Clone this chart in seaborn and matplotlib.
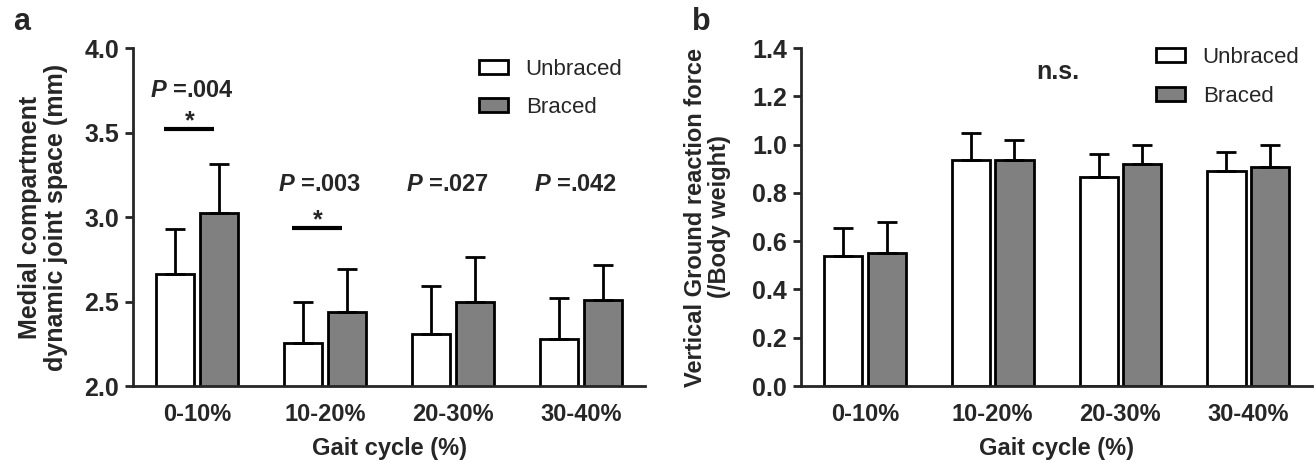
import numpy as np
import pandas as pd
import seaborn as sns
import matplotlib
matplotlib.use("Agg")
import matplotlib.pyplot as plt
from matplotlib.patches import Patch

# ---- data ----
phases = ["0-10%", "10-20%", "20-30%", "30-40%"]
conditions = ["Unbraced", "Braced"]

js_unbraced = [2.66, 2.255, 2.31, 2.28]
js_braced = [3.025, 2.44, 2.50, 2.51]
js_unbraced_sd = [0.27, 0.245, 0.28, 0.24]
js_braced_sd = [0.29, 0.25, 0.265, 0.205]

grf_unbraced = [0.54, 0.935, 0.866, 0.89]
grf_braced = [0.551, 0.935, 0.92, 0.907]
grf_unbraced_sd = [0.115, 0.115, 0.097, 0.08]
grf_braced_sd = [0.129, 0.085, 0.08, 0.091]

p_labels = ["$P$ =.004", "$P$ =.003", "$P$ =.027", "$P$ =.042"]
sig_phases = ["0-10%", "10-20%"]

colors = ["white", "#808080"]

sns.set_style("ticks")
plt.rcParams["font.family"] = ["Liberation Sans", "DejaVu Sans"]
plt.rcParams["font.weight"] = "bold"
plt.rcParams["mathtext.fontset"] = "custom"
plt.rcParams["mathtext.it"] = "Liberation Sans:italic:bold"
plt.rcParams["mathtext.rm"] = "Liberation Sans:bold"


def to_long(unbraced, braced):
    return pd.DataFrame({
        "phase": phases * 2,
        "condition": [conditions[0]] * 4 + [conditions[1]] * 4,
        "value": list(unbraced) + list(braced),
    })


def draw_panel(ax, unbraced, braced, sd_u, sd_b, ylim, yticks, ylabel, labelpad, ylsize):
    df = to_long(unbraced, braced)
    sns.barplot(data=df, x="phase", y="value", hue="condition", order=phases,
                hue_order=conditions, palette=colors, edgecolor="black",
                linewidth=2, width=0.68, gap=0.12, legend=False, ax=ax)
    for cont, sd in zip(ax.containers, [sd_u, sd_b]):
        xs = [p.get_x() + p.get_width() / 2 for p in cont]
        ys = [p.get_height() for p in cont]
        ax.errorbar(xs, ys, yerr=[np.zeros(len(sd)), sd], fmt="none",
                    ecolor="black", elinewidth=2, capsize=7, capthick=2)
    ax.set_xlim(-0.5, 3.5)
    ax.set_ylim(*ylim)
    ax.set_yticks(yticks)
    ax.set_yticklabels([f"{t:.1f}" for t in yticks])
    ax.tick_params(axis="y", length=6, width=2, labelsize=18, pad=4)
    ax.tick_params(axis="x", length=0, labelsize=17, pad=12)
    for s in ["left", "bottom"]:
        ax.spines[s].set_linewidth(2)
    sns.despine(ax=ax)
    ax.set_xlabel("Gait cycle (%)", fontsize=17, fontweight="bold", labelpad=8)
    ax.set_ylabel(ylabel, fontsize=ylsize, fontweight="bold", labelpad=labelpad,
                  linespacing=1.1)
    handles = [Patch(facecolor=c, edgecolor="black", linewidth=2) for c in colors]
    return handles


fig = plt.figure(figsize=(13.16, 4.63), dpi=100)
ax_a = fig.add_axes([0.1011, 0.1663, 0.3891, 0.7300])
ax_b = fig.add_axes([0.6087, 0.1663, 0.3883, 0.7300])

h = draw_panel(ax_a, js_unbraced, js_braced, js_unbraced_sd, js_braced_sd,
               (2.0, 4.0), np.arange(2.0, 4.01, 0.5),
               "Medial compartment\ndynamic joint space (mm)", 12, 18)
ax_a.legend(h, conditions, loc="upper left", frameon=False,
            prop={"weight": "normal", "size": 16},
            bbox_to_anchor=(479 / 1316, 1 - 59 / 463), bbox_transform=fig.transFigure,
            borderpad=0, borderaxespad=0, handlelength=1.3, handleheight=0.6,
            handletextpad=0.8, labelspacing=0.75)

# significance annotations (panel a)
for i, lab in enumerate(p_labels):
    y = 3.75 if i == 0 else 3.195
    ax_a.text(i - 0.04, y, lab, ha="center", va="center", fontsize=17, fontweight="bold")
sig_y = [3.52, 2.935]
for ph, y in zip(sig_phases, sig_y):
    i = phases.index(ph)
    ax_a.plot([i - 0.26, i + 0.13], [y, y], color="black", lw=3, solid_capstyle="butt")
    ax_a.text(i - 0.06, y + 0.045, "*", ha="center", va="center", fontsize=18,
              fontweight="bold")

h = draw_panel(ax_b, grf_unbraced, grf_braced, grf_unbraced_sd, grf_braced_sd,
               (0.0, 1.4), np.arange(0.0, 1.41, 0.2),
               "Vertical Ground reaction force\n(/Body weight)", 15, 17)
ax_b.legend(h, conditions, loc="upper left", frameon=False,
            prop={"weight": "normal", "size": 16},
            bbox_to_anchor=(1156 / 1316, 1 - 47 / 463), bbox_transform=fig.transFigure,
            borderpad=0, borderaxespad=0, handlelength=1.3, handleheight=0.6,
            handletextpad=0.8, labelspacing=0.8)
ax_b.text(1.51, 1.30, "n.s.", ha="center", va="center", fontsize=18, fontweight="bold")

fig.text(13 / 1316, 1 - 30 / 463, "a", fontsize=22, fontweight="bold", va="baseline")
fig.text(692 / 1316, 1 - 30 / 463, "b", fontsize=22, fontweight="bold", va="baseline")

fig.savefig("out.png", dpi=100)
